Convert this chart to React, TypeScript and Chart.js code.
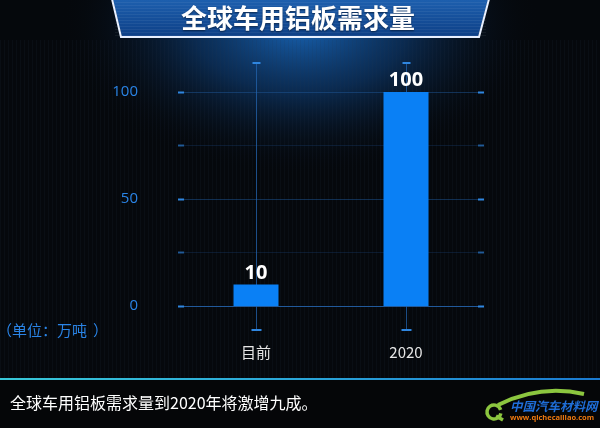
import React, { useEffect, useRef } from 'react';
import { Chart, registerables } from 'chart.js';

Chart.register(...registerables);

const categories = ['目前', '2020'];
const demand = [10, 100];
const yTicks = [0, 25, 50, 75, 100];
const yLabelTicks = [0, 50, 100];
const yMax = 113.5;
const titleText = '全球车用铝板需求量';
const captionText = '全球车用铝板需求量到2020年将激增九成。';
const unitOpen = '（单位：万吨';
const unitClose = '）';
const logoName = '中国汽车材料网';
const logoUrl = 'www.qichecailiao.com';

const CJK = '"Noto Sans CJK SC", "Noto Sans", sans-serif';
const NUM = '"Open Sans", "Noto Sans", sans-serif';

const decor = {
  id: 'decor',
  beforeDraw(chart: any) {
    const { ctx, width, height } = chart;
    ctx.save();
    ctx.fillStyle = '#05080c';
    ctx.fillRect(0, 0, width, height);
    ctx.save();
    ctx.translate(300, 25);
    ctx.scale(1.6, 1);
    const g = ctx.createRadialGradient(0, 0, 0, 0, 0, 150);
    g.addColorStop(0, 'rgba(25,105,190,0.95)');
    g.addColorStop(0.45, 'rgba(15,70,135,0.55)');
    g.addColorStop(1, 'rgba(5,8,12,0)');
    ctx.fillStyle = g;
    ctx.fillRect(-200, -100, 400, 300);
    ctx.restore();
    ctx.strokeStyle = 'rgba(40,60,80,0.12)';
    ctx.lineWidth = 1;
    for (let x = 0.5; x < width; x += 4) {
      ctx.beginPath(); ctx.moveTo(x, 40); ctx.lineTo(x, 378); ctx.stroke();
    }
    ctx.restore();
  },
  beforeDatasetsDraw(chart: any) {
    const { ctx, chartArea } = chart;
    const y = chart.scales.y;
    const x = chart.scales.x;
    ctx.save();
    yTicks.forEach((v) => {
      const py = Math.round(y.getPixelForValue(v)) + 0.5;
      const labelled = yLabelTicks.includes(v);
      ctx.strokeStyle = v === 0 ? 'rgba(40,110,190,0.8)' : labelled ? 'rgba(30,85,150,0.5)' : 'rgba(25,70,125,0.3)';
      ctx.lineWidth = 1;
      ctx.beginPath();
      ctx.moveTo(chartArea.left - 3, py);
      ctx.lineTo(chartArea.right + 3, py);
      ctx.stroke();
      ctx.strokeStyle = labelled ? '#2f86e0' : 'rgba(47,134,224,0.6)';
      ctx.lineWidth = 2;
      ctx.beginPath();
      ctx.moveTo(chartArea.left - 3, py);
      ctx.lineTo(chartArea.left + 3, py);
      ctx.moveTo(chartArea.right - 3, py);
      ctx.lineTo(chartArea.right + 3, py);
      ctx.stroke();
    });
    categories.forEach((_, i) => {
      const px = Math.round(x.getPixelForValue(i)) + 0.5;
      const top = chartArea.top;
      const bottom = chartArea.bottom + 24;
      ctx.strokeStyle = 'rgba(35,100,175,0.75)';
      ctx.lineWidth = 1;
      ctx.beginPath();
      ctx.moveTo(px, top);
      ctx.lineTo(px, bottom);
      ctx.stroke();
      ctx.strokeStyle = '#2f86e0';
      ctx.lineWidth = 2;
      ctx.beginPath();
      ctx.moveTo(px - 4, top);
      ctx.lineTo(px + 4, top);
      ctx.moveTo(px - 5, bottom);
      ctx.lineTo(px + 5, bottom);
      ctx.stroke();
    });
    ctx.restore();
  },
  afterDatasetsDraw(chart: any) {
    const { ctx } = chart;
    const meta = chart.getDatasetMeta(0);
    ctx.save();
    ctx.fillStyle = '#ffffff';
    ctx.font = `bold 20px ${NUM}`;
    ctx.textAlign = 'center';
    ctx.textBaseline = 'alphabetic';
    meta.data.forEach((bar: any, i: number) => {
      ctx.fillText(String(demand[i]), bar.x, bar.y - 6);
    });
    ctx.restore();
  },
  afterDraw(chart: any) {
    const { ctx, chartArea } = chart;
    ctx.save();
    ctx.fillStyle = '#2a84e6';
    ctx.font = `15px ${CJK}`;
    ctx.textAlign = 'left';
    ctx.textBaseline = 'middle';
    ctx.fillText(unitOpen, -3, chartArea.bottom + 24);
    ctx.fillText(unitClose, 93, chartArea.bottom + 24);

    ctx.beginPath();
    ctx.moveTo(113, 0);
    ctx.lineTo(488, 0);
    ctx.lineTo(478, 37);
    ctx.lineTo(122, 37);
    ctx.closePath();
    const bg = ctx.createLinearGradient(0, 0, 0, 37);
    bg.addColorStop(0, '#1d5fae');
    bg.addColorStop(1, '#0d3f86');
    ctx.fillStyle = bg;
    ctx.fill();
    ctx.strokeStyle = 'rgba(255,255,255,0.06)';
    ctx.lineWidth = 1;
    for (let yy = 2.5; yy < 36; yy += 3) {
      ctx.beginPath(); ctx.moveTo(115, yy); ctx.lineTo(486, yy); ctx.stroke();
    }
    ctx.strokeStyle = '#e8f0ff';
    ctx.lineWidth = 2;
    ctx.beginPath();
    ctx.moveTo(112, -1);
    ctx.lineTo(121, 37);
    ctx.lineTo(479, 37);
    ctx.lineTo(489, -1);
    ctx.stroke();
    ctx.fillStyle = '#ffffff';
    ctx.font = `bold 26px ${CJK}`;
    ctx.textAlign = 'center';
    ctx.textBaseline = 'middle';
    ctx.shadowColor = 'rgba(0,0,0,0.5)';
    ctx.shadowOffsetY = 1;
    ctx.shadowBlur = 2;
    ctx.fillText(titleText, 298, 18);
    ctx.shadowColor = 'transparent';

    const lg = ctx.createLinearGradient(0, 0, 600, 0);
    lg.addColorStop(0, '#38c8d8');
    lg.addColorStop(0.5, '#2aa6d8');
    lg.addColorStop(1, '#1a7ad0');
    ctx.strokeStyle = lg;
    ctx.lineWidth = 2;
    ctx.beginPath();
    ctx.moveTo(0, 379);
    ctx.lineTo(600, 379);
    ctx.stroke();
    ctx.fillStyle = '#050608';
    ctx.fillRect(0, 380, 600, 48);

    ctx.fillStyle = '#ffffff';
    ctx.font = `16px ${CJK}`;
    ctx.textAlign = 'left';
    ctx.textBaseline = 'middle';
    ctx.fillText(captionText, 10, 403);

    ctx.strokeStyle = '#8cc63f';
    ctx.lineWidth = 4;
    ctx.beginPath();
    ctx.moveTo(498, 405);
    ctx.quadraticCurveTo(540, 384, 584, 394);
    ctx.stroke();
    ctx.lineWidth = 3.5;
    ctx.beginPath();
    ctx.arc(494, 412, 7, 0.2, Math.PI * 1.9);
    ctx.stroke();
    ctx.beginPath();
    ctx.moveTo(496, 416);
    ctx.lineTo(503, 420);
    ctx.stroke();
    ctx.fillStyle = '#1f6ed8';
    ctx.font = `italic bold 12.5px ${CJK}`;
    ctx.textAlign = 'left';
    ctx.textBaseline = 'middle';
    ctx.fillText(logoName, 510, 406);
    ctx.fillStyle = '#f07a10';
    ctx.font = `bold 7.5px ${NUM}`;
    ctx.fillText(logoUrl, 510, 418);
    ctx.restore();
  },
};

export default function App() {
  const ref = useRef<HTMLCanvasElement | null>(null);
  useEffect(() => {
    if (!ref.current) return;
    const chart = new Chart(ref.current, {
      type: 'bar',
      data: {
        labels: categories,
        datasets: [
          {
            data: demand,
            backgroundColor: '#0a80f5',
            borderWidth: 0,
            barPercentage: 0.3,
            categoryPercentage: 1,
          },
        ],
      },
      options: {
        responsive: false,
        animation: false,
        layout: { padding: { left: 0, right: 119, top: 63, bottom: 0 } },
        plugins: { legend: { display: false }, tooltip: { enabled: false } },
        scales: {
          x: {
            grid: { display: false },
            border: { display: false },
            ticks: {
              color: '#e6e6e6',
              font: { size: 15, family: CJK },
              padding: 29,
            },
            afterFit(scale: any) {
              scale.height = 122;
            },
          },
          y: {
            min: 0,
            max: yMax,
            grid: { display: false },
            border: { display: false },
            afterBuildTicks(scale: any) {
              scale.ticks = yTicks.map((v) => ({ value: v }));
            },
            afterFit(scale: any) {
              scale.width = 181;
            },
            ticks: {
              color: '#2a84e6',
              font: { size: 15, family: NUM },
              padding: 35,
              callback: (v: any) => (yLabelTicks.includes(Number(v)) ? String(v) : ''),
            },
          },
        },
      },
      plugins: [decor],
    });
    return () => chart.destroy();
  }, []);
  return (
    <div style={{ position: 'absolute', left: 0, top: 0, width: 600, height: 428 }}>
      <canvas ref={ref} width={600} height={428} />
    </div>
  );
}
